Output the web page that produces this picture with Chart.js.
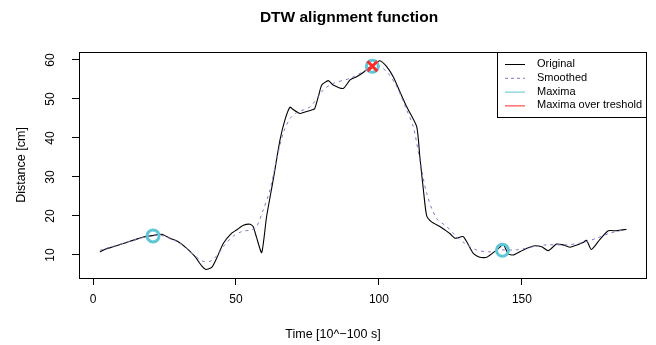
<!DOCTYPE html>
<html>
<head>
<meta charset="utf-8">
<script src="https://cdn.jsdelivr.net/npm/chart.js@4"></script>
<style>
  html, body { margin: 0; padding: 0; background: #fff; }
  canvas { display: block; }
</style>
</head>
<body>
<canvas id="dtw" width="656" height="345"></canvas>
<script>
// values
const originalTime = [2.4, 4.2, 7.1, 10, 12.9, 15, 17.6, 21, 24, 26.9, 29.8, 32.8, 35.7, 38, 39.5, 41.5, 43.2, 45.6, 48.5, 50.2, 52.6, 54.9, 56, 57.2, 59, 60.7, 63, 65.4, 67.1, 68.9, 70, 72.4, 74.7, 76.5, 77.5, 78.8, 80, 82.3, 84, 87.5, 89.9, 92.2, 94.5, 96.3, 98, 100.3, 102.7, 105, 107.3, 109.7, 113.2, 114.3, 115.5, 116.7, 118.4, 121.3, 123.1, 124.8, 126.6, 129.5, 133, 135.3, 137.7, 141.2, 143.5, 145.2, 147, 150.5, 154, 156.9, 159.2, 162.1, 164.4, 166.8, 171.4, 172.6, 174.3, 177.3, 180.2, 183.1, 186.6];
const originalDist = [10.8, 11.5, 12.1, 12.8, 13.5, 14.0, 14.6, 15.0, 15.3, 14.3, 13.4, 11.7, 9.6, 7.2, 6.3, 6.8, 9.1, 13, 15.6, 16.4, 17.6, 17.9, 17.3, 14.5, 10.6, 19.8, 29.2, 39.5, 44.6, 47.9, 47.3, 46.3, 46.8, 47.2, 47.5, 50.6, 53.6, 54.7, 53.6, 52.7, 54.9, 55.7, 56.8, 57.9, 58.7, 59.8, 58.3, 55.7, 51.9, 48, 42.9, 35.2, 27, 20.0, 18.5, 17.3, 16.4, 15.5, 14.3, 14.7, 10.4, 9.4, 9.4, 11.3, 12.6, 10.3, 10, 11.3, 12.3, 12.1, 11.1, 12.8, 12.6, 12, 13.2, 13.8, 11.4, 14, 16.2, 16.2, 16.6];

const smoothedTime = [2.4, 7, 12.9, 17.6, 21, 24, 27, 30, 33, 36, 38.5, 41, 43.5, 46, 49, 52, 55, 57, 59.5, 61.9, 64.2, 66.5, 68.9, 71.2, 75.9, 80.5, 84, 89.9, 94.5, 99.2, 102.7, 106.2, 109.7, 112, 114.3, 116.7, 120.1, 123.7, 126.6, 130, 134, 138.8, 143, 148, 152.8, 158.6, 165.6, 171.4, 176.1, 180.8, 185.4];
const smoothedDist = [11.2, 12.2, 13.5, 14.5, 15.0, 15.0, 14.2, 13.2, 11.6, 9.6, 8.4, 8.4, 10.0, 12.5, 14.8, 16.0, 16.4, 17.0, 21.5, 26.7, 34.4, 41.2, 45, 46.5, 48, 52.3, 54, 55.3, 57, 58.7, 57, 53.2, 47.2, 42.9, 34.4, 25.8, 19.4, 17.3, 15.1, 13, 11.3, 10.8, 11.3, 11.3, 11.9, 12.6, 12.6, 13.2, 14.3, 15.6, 16.4];

const maximaTime = [21, 97.7, 143.2];
const maximaDist = [14.9, 58.4, 11.2];
const overTime = [97.7];
const overDist = [58.4];

const xTicks = [0, 50, 100, 150];
const yTicks = [10, 20, 30, 40, 50, 60];

const legendLabels = ["Original", "Smoothed", "Maxima", "Maxima over treshold"];

const FONT = '"Liberation Sans", Arial, Helvetica, sans-serif';
const colors = {
  original: "#000000",
  smoothed: "#8b6fd0",
  maxima: "#5fc6d6",
  over: "#ff2a2a"
};

function points(xs, ys) {
  return xs.map((x, i) => ({ x, y: ys[i] }));
}

// box, tick labels, titles and legend drawn the way R does
const rStyle = {
  id: "rStyle",
  afterDraw(chart) {
    const { ctx, chartArea: a, scales: { x, y } } = chart;
    ctx.save();
    ctx.strokeStyle = "#000";
    ctx.lineWidth = 1;
    ctx.strokeRect(a.left + 0.5, a.top + 0.5, a.right - a.left, a.bottom - a.top);

    ctx.fillStyle = "#000";
    ctx.textAlign = "center";
    ctx.textBaseline = "middle";
    ctx.font = "12px " + FONT;
    xTicks.forEach((v) => ctx.fillText(String(v), x.getPixelForValue(v), 300));
    yTicks.forEach((v) => {
      ctx.save();
      ctx.translate(51, y.getPixelForValue(v));
      ctx.rotate(-Math.PI / 2);
      ctx.fillText(String(v), 0, 0);
      ctx.restore();
    });

    ctx.font = "12.5px " + FONT;
    ctx.fillText("Time [10^\u2212100 s]", 333, 335);
    ctx.save();
    ctx.translate(22, (a.top + a.bottom) / 2);
    ctx.rotate(-Math.PI / 2);
    ctx.fillText("Distance [cm]", 0, 0);
    ctx.restore();

    ctx.font = "bold 15.5px " + FONT;
    ctx.fillText("DTW alignment function", 349, 18);

    // legend
    const lx = 497, ly = a.top, lw = a.right - lx, lh = 65;
    ctx.fillStyle = "#fff";
    ctx.fillRect(lx, ly, lw, lh);
    ctx.strokeStyle = "#000";
    ctx.strokeRect(lx + 0.5, ly + 0.5, lw, lh);
    const swatch = [colors.original, colors.smoothed, colors.maxima, colors.over];
    ctx.font = "11px " + FONT;
    ctx.textAlign = "left";
    legendLabels.forEach((label, i) => {
      const ry = ly + 12 + i * 13.8;
      ctx.strokeStyle = swatch[i];
      ctx.setLineDash(i === 1 ? [3, 3] : []);
      ctx.beginPath();
      ctx.moveTo(505, ry + 0.5);
      ctx.lineTo(525, ry + 0.5);
      ctx.stroke();
      ctx.fillStyle = "#000";
      ctx.fillText(label, 537, ry);
    });
    ctx.restore();
  }
};

new Chart(document.getElementById("dtw"), {
  type: "scatter",
  data: {
    datasets: [
      {
        label: "Maxima over treshold",
        data: points(overTime, overDist),
        pointStyle: "crossRot",
        pointRadius: 7,
        borderColor: colors.over,
        borderWidth: 3,
        order: 0
      },
      {
        label: "Maxima",
        data: points(maximaTime, maximaDist),
        pointStyle: "circle",
        pointRadius: 6,
        backgroundColor: "rgba(0,0,0,0)",
        borderColor: colors.maxima,
        borderWidth: 3,
        order: 1
      },
      {
        label: "Smoothed",
        data: points(smoothedTime, smoothedDist),
        showLine: true,
        borderColor: colors.smoothed,
        borderWidth: 1,
        borderDash: [3, 4],
        pointRadius: 0,
        tension: 0.3,
        order: 2
      },
      {
        label: "Original",
        data: points(originalTime, originalDist),
        showLine: true,
        borderColor: colors.original,
        borderWidth: 1.1,
        pointRadius: 0,
        tension: 0.2,
        order: 3
      }
    ]
  },
  options: {
    responsive: false,
    animation: false,
    devicePixelRatio: 1,
    layout: { padding: { left: 0, top: 52, right: 10, bottom: 0 } },
    plugins: {
      legend: { display: false },
      tooltip: { enabled: false }
    },
    scales: {
      x: {
        type: "linear",
        min: -4.9,
        max: 193.4,
        afterBuildTicks(scale) { scale.ticks = xTicks.map((value) => ({ value })); },
        afterFit(scale) { scale.height = 67; },
        ticks: { display: false },
        grid: { drawOnChartArea: false, drawTicks: true, tickLength: 7, color: "#000" },
        border: { display: false }
      },
      y: {
        type: "linear",
        min: 4.1,
        max: 62.05,
        afterBuildTicks(scale) { scale.ticks = yTicks.map((value) => ({ value })); },
        afterFit(scale) { scale.width = 79; },
        ticks: { display: false },
        grid: { drawOnChartArea: false, drawTicks: true, tickLength: 7, color: "#000" },
        border: { display: false }
      }
    }
  },
  plugins: [rStyle]
});
</script>
</body>
</html>
